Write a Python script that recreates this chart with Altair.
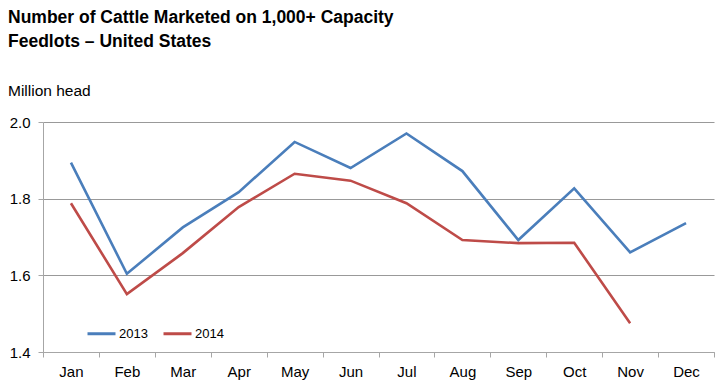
import altair as alt
import pandas as pd

months = ["Jan", "Feb", "Mar", "Apr", "May", "Jun", "Jul", "Aug", "Sep", "Oct", "Nov", "Dec"]
v2013 = [1.894, 1.604, 1.725, 1.817, 1.948, 1.880, 1.970, 1.872, 1.692, 1.827, 1.660, 1.736]
v2014 = [1.788, 1.551, 1.658, 1.778, 1.865, 1.847, 1.788, 1.692, 1.684, 1.685, 1.475]
y_ticks = [1.4, 1.6, 1.8, 2.0]

rows = []
for m, v in zip(months, v2013):
    rows.append({"month": m, "year": "2013", "value": v})
for m, v in zip(months, v2014):
    rows.append({"month": m, "year": "2014", "value": v})
df = pd.DataFrame(rows)

font = "Liberation Sans"
grey = "#a6a6a6"

chart = alt.Chart(df).mark_line(strokeWidth=2.6).encode(
    x=alt.X("month:N", sort=months, title=None,
            scale=alt.Scale(domain=months, paddingInner=0, paddingOuter=0),
            axis=alt.Axis(tickBand="extent", labelAngle=0, labelFontSize=15, labelFont=font,
                          labelColor="black", labelPadding=7, domainColor=grey, tickColor=grey,
                          tickSize=5, grid=False)),
    y=alt.Y("value:Q", title=None,
            scale=alt.Scale(domain=[1.4, 2.0], nice=False, zero=False),
            axis=alt.Axis(values=y_ticks, format=".1f", labelFontSize=15, labelFont=font,
                          labelColor="black", labelPadding=8, domainColor=grey, tickColor=grey,
                          tickSize=5, gridColor="#999999", gridWidth=1)),
    color=alt.Color("year:N",
                    scale=alt.Scale(domain=["2013", "2014"], range=["#4A7EBB", "#BE4B48"]),
                    legend=alt.Legend(orient="none", legendX=43, legendY=196, direction="horizontal",
                                      title=None, symbolType="stroke", symbolSize=784,
                                      symbolStrokeWidth=3, labelFontSize=13, labelFont=font,
                                      labelColor="black", labelOffset=2, columnPadding=9)),
).properties(
    width=671,
    height=230,
    padding={"left": 35, "top": 114, "right": 1, "bottom": 29},
    autosize=alt.AutoSizeParams(type="none"),
    title=alt.TitleParams(
        text=["Number of Cattle Marketed on 1,000+ Capacity", "Feedlots \u2013 United States"],
        subtitle="Million head",
        anchor="start", frame="group", dx=-35, offset=16, fontSize=17.5, fontWeight="bold",
        font=font, lineHeight=23.5, color="black", subtitleFont=font, subtitleFontSize=15.5,
        subtitleColor="black", subtitlePadding=33.5,
    ),
).configure_view(stroke=None)

chart.save("out.html", embed_options={"renderer": "svg", "actions": False})
